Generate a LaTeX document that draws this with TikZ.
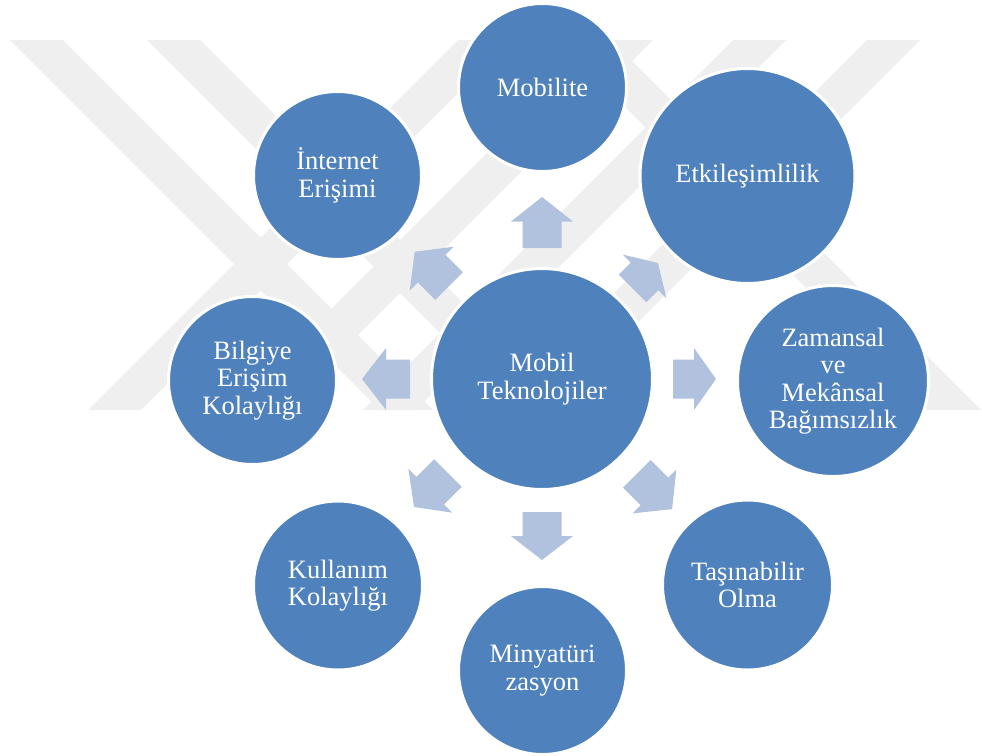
\documentclass[tikz,border=0pt]{standalone}
\usepackage{fontspec}
\setmainfont{Liberation Serif}
\definecolor{circ}{HTML}{4F81BD}
\definecolor{arr}{HTML}{B0C2DE}
\definecolor{wm}{HTML}{EFEFEF}
\newcommand\blockarr[4]{%
  \fill[arr, shift={(542,379)}, rotate=#1]
    (#2,-19.5) -- ({#3-#4},-19.5) -- ({#3-#4},-31) -- (#3,0) --
    ({#3-#4},31) -- ({#3-#4},19.5) -- (#2,19.5) -- cycle;}
\begin{document}
\begin{tikzpicture}[x=1pt,y=-1pt,
  bub/.style={circle, fill=circ, draw=white, line width=3pt, inner sep=0pt,
    text=white, align=center, font=\fontsize{26.5}{27.5}\selectfont}]
\useasboundingbox (0,0) rectangle (982,755);
% watermark
\foreach \xt in {10,147,558}
  \fill[wm] (\xt,40) -- (\xt+53,40) -- (\xt+423,410) -- (\xt+370,410) -- cycle;
\foreach \xt in {458,600,733,867}
  \fill[wm] (\xt,40) -- (\xt+53,40) -- (\xt-317,410) -- (\xt-370,410) -- cycle;
% block arrows
\blockarr{90}{131}{182}{24.5}
\blockarr{45}{128}{164}{19}
\blockarr{0}{131}{174}{22}
\blockarr{-45}{134}{184}{25}
\blockarr{-90}{133}{181}{24}
\blockarr{-135}{133}{181}{23}
\blockarr{180}{132}{180}{24}
\blockarr{135}{131.5}{180}{24}
% circles
\node[bub, minimum size=221pt] (c) at (542,379) {Mobil\\Teknolojiler};
\node[bub, minimum size=168pt] (mob) at (542.5,87.5) {Mobilite};
\node[bub, minimum size=215pt] (etk) at (747.5,176) {Etkileşimlilik};
\node[bub, minimum size=191pt] (zam) at (833,381) {Zamansal\\ve\\Mekânsal\\Bağımsızlık};
\node[bub, minimum size=170pt] (tas) at (747.5,585) {Taşınabilir\\Olma};
\node[bub, minimum size=168pt] (min) at (542.5,670.5) {Minyatüri\\zasyon};
\node[bub, minimum size=169pt] (kul) at (338,585.5) {Kullanım\\Kolaylığı};
\node[bub, minimum size=168pt] (bil) at (252.5,380.5) {Bilgiye\\Erişim\\Kolaylığı};
\node[bub, minimum size=168pt] (int) at (337.5,175.5) {İnternet\\Erişimi};
\end{tikzpicture}
\end{document}
